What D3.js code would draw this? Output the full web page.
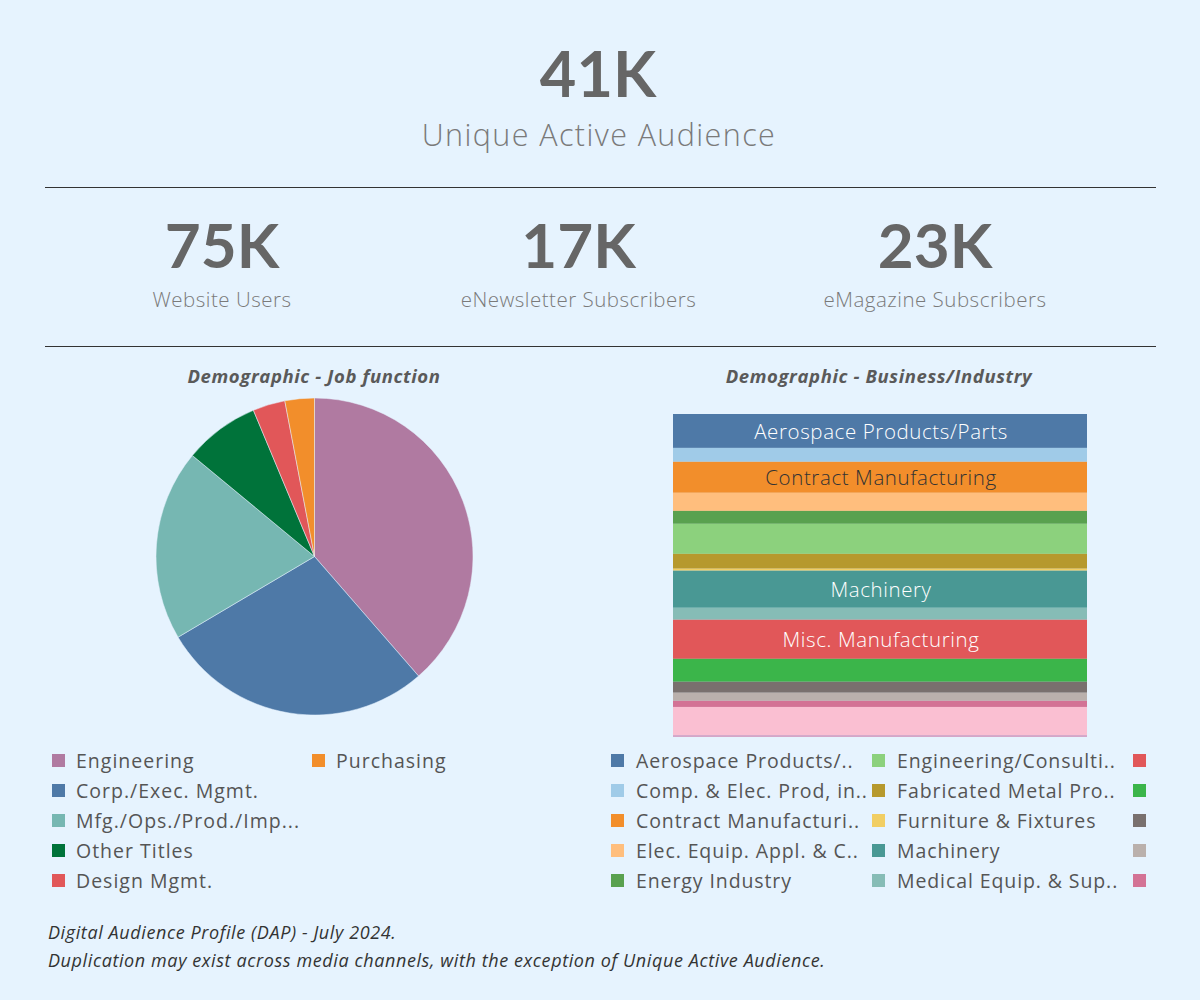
<!DOCTYPE html>
<html>
<head>
<meta charset="utf-8">
<script src="https://cdn.jsdelivr.net/npm/d3@7"></script>
<style>
  html, body { margin: 0; padding: 0; background: #e6f3fe; }
  svg { display: block; }
</style>
</head>
<body>
<svg id="chart" width="1200" height="1000"></svg>
<script>
// ---------- DATA ----------
const kpiValues = ["75K", "17K", "23K"];
const kpiLabels = ["Website Users", "eNewsletter Subscribers", "eMagazine Subscribers"];
const headlineValue = "41K";
const headlineLabel = "Unique Active Audience";

const jobCategories = ["Engineering", "Corp./Exec. Mgmt.", "Mfg./Ops./Prod./Imp...", "Other Titles", "Design Mgmt.", "Purchasing"];
const jobValues = [38.6, 27.9, 19.5, 7.7, 3.3, 3.0];
const jobColors = ["#b07aa1", "#4e79a7", "#76b7b2", "#00733a", "#e15759", "#f28e2b"];

const industryCategories = [
  "Aerospace Products/Parts", "Comp. & Elec. Prod, incl. Semiconductors", "Contract Manufacturing",
  "Elec. Equip. Appl. & Components", "Energy Industry", "Engineering/Consulting",
  "Fabricated Metal Products", "Furniture & Fixtures", "Machinery", "Medical Equip. & Supplies",
  "Misc. Manufacturing", "Plastics & Rubber", "Primary Metals", "Printing", "Textiles",
  "Transportation Equipment", "Other"
];
const industryLegendLabels = [
  "Aerospace Products/..", "Comp. & Elec. Prod, in..", "Contract Manufacturi..",
  "Elec. Equip. Appl. & C..", "Energy Industry", "Engineering/Consulti..",
  "Fabricated Metal Pro..", "Furniture & Fixtures", "Machinery", "Medical Equip. & Sup..",
  "", "", "", "", ""
];
const industryValues = [10.5, 4.3, 9.6, 5.6, 4.0, 9.3, 4.6, 0.6, 11.5, 3.7, 12.1, 7.1, 3.4, 2.5, 1.9, 8.7, 0.6];
const industryColors = ["#4e79a7", "#a0cbe8", "#f28e2b", "#ffbe7d", "#59a14f", "#8cd17d",
  "#b6992d", "#f1ce63", "#499894", "#86bcb6", "#e15759", "#3bb54a", "#79706e", "#bab0ac",
  "#d37295", "#fabfd2", "#d4a6c8"];
const industryBarLabels = {
  "Aerospace Products/Parts": {text: "Aerospace Products/Parts", color: "#ffffff"},
  "Contract Manufacturing": {text: "Contract Manufacturing", color: "#333333"},
  "Machinery": {text: "Machinery", color: "#ffffff"},
  "Misc. Manufacturing": {text: "Misc. Manufacturing", color: "#ffffff"}
};

const footnotes = [
  "Digital Audience Profile (DAP) - July 2024.",
  "Duplication may exist across media channels, with the exception of Unique Active Audience."
];

// ---------- DRAW ----------
const svg = d3.select("#chart");
const NUMFONT = "Lato, 'Open Sans', sans-serif";
const FONT = "'Open Sans', 'Noto Sans', sans-serif";
const GREY = "#666666";

// Headline
svg.append("text").attr("x", 598).attr("y", 97).attr("text-anchor", "middle")
  .style("font-family", NUMFONT).style("font-weight", 700).style("font-size", "63px")
  .attr("fill", GREY).text(headlineValue);
svg.append("text").attr("x", 599).attr("y", 146).attr("text-anchor", "middle")
  .style("font-family", FONT).style("font-weight", 300).style("font-size", "30.5px")
  .style("letter-spacing", "1.4px")
  .attr("fill", "#7a7a7a").text(headlineLabel);

// separators
[187.5, 346.5].forEach(y => {
  svg.append("line").attr("x1", 45).attr("x2", 1156).attr("y1", y).attr("y2", y)
    .attr("stroke", "#333").attr("stroke-width", 1);
});

// KPI row
const kpiX = d3.scalePoint().domain(d3.range(kpiValues.length)).range([222, 935]);
kpiValues.forEach((v, i) => {
  svg.append("text").attr("x", kpiX(i)).attr("y", 268).attr("text-anchor", "middle")
    .style("font-family", NUMFONT).style("font-weight", 700).style("font-size", "62px")
    .attr("fill", GREY).text(v);
  svg.append("text").attr("x", kpiX(i)).attr("y", 306.5).attr("text-anchor", "middle")
    .style("font-family", FONT).style("font-weight", 300).style("font-size", "20.5px")
    .style("letter-spacing", "0.5px")
    .attr("fill", "#7a7a7a").text(kpiLabels[i]);
});

// Section titles
[["Demographic - Job function", 314], ["Demographic - Business/Industry", 879]].forEach(([t, x]) => {
  svg.append("text").attr("x", x).attr("y", 382.5).attr("text-anchor", "middle")
    .style("font-family", FONT).style("font-weight", 700).style("font-style", "italic")
    .style("font-size", "18.5px").style("letter-spacing", "0.6px")
    .attr("fill", "#5a5a5a").text(t);
});

// Pie
const pieColor = d3.scaleOrdinal().domain(jobCategories).range(jobColors);
const pie = d3.pie().sort(null).value(d => d.v);
const arc = d3.arc().innerRadius(0).outerRadius(158.5);
const pieData = jobCategories.map((c, i) => ({c, v: jobValues[i]}));
const pg = svg.append("g").attr("transform", "translate(314.5,556.5)");
pg.selectAll("path").data(pie(pieData)).join("path")
  .attr("d", arc).attr("fill", d => pieColor(d.data.c))
  .attr("stroke", "#e6f3fe").attr("stroke-width", 0.5);

// Pie legend
const legRow = d3.scaleLinear().domain([0, 1]).range([761, 791]);
pieData.forEach((d, i) => {
  const col = i < 5 ? 0 : 1;
  const row = i < 5 ? i : i - 5;
  const x0 = col === 0 ? 52 : 312;
  const y = legRow(row);
  svg.append("rect").attr("x", x0).attr("y", y - 7).attr("width", 13).attr("height", 13)
    .attr("fill", pieColor(d.c));
  svg.append("text").attr("x", x0 + 24).attr("y", y).attr("dy", "0.35em")
    .style("font-family", FONT).style("font-size", "19.5px").style("letter-spacing", "1px")
    .attr("fill", "#555").text(d.c);
});

// Stacked bar (100%)
const total = d3.sum(industryValues);
const yBar = d3.scaleLinear().domain([0, total]).range([414, 737]);
const xLeft = 673, xRight = 1087;
let cum = 0;
const stackData = industryCategories.map((c, i) => {
  const o = {c, v: industryValues[i], y0: cum, y1: cum + industryValues[i], color: industryColors[i]};
  cum += industryValues[i];
  return o;
});
const bg = svg.append("g");
bg.selectAll("rect").data(stackData).join("rect")
  .attr("x", xLeft).attr("width", xRight - xLeft)
  .attr("y", d => yBar(d.y0)).attr("height", d => yBar(d.y1) - yBar(d.y0))
  .attr("fill", d => d.color);
bg.selectAll("text").data(stackData.filter(d => industryBarLabels[d.c])).join("text")
  .attr("x", (xLeft + xRight) / 2 + 1).attr("y", d => (yBar(d.y0) + yBar(d.y1)) / 2 + 1)
  .attr("dy", "0.35em").attr("text-anchor", "middle")
  .style("font-family", FONT).style("font-weight", 300).style("font-size", "20.5px")
  .style("letter-spacing", "0.6px")
  .attr("fill", d => industryBarLabels[d.c].color).text(d => industryBarLabels[d.c].text);

// Industry legend (3 columns, 5 rows visible)
const colX = [611, 872, 1133];
for (let i = 0; i < 15; i++) {
  const col = Math.floor(i / 5), row = i % 5;
  const y = legRow(row);
  svg.append("rect").attr("x", colX[col]).attr("y", y - 7).attr("width", 13).attr("height", 13)
    .attr("fill", industryColors[i]);
  if (industryLegendLabels[i]) {
    svg.append("text").attr("x", colX[col] + 25).attr("y", y).attr("dy", "0.35em")
      .style("font-family", FONT).style("font-size", "19.5px").style("letter-spacing", "0.9px")
      .attr("fill", "#555").text(industryLegendLabels[i]);
  }
}

// Footnotes
footnotes.forEach((t, i) => {
  svg.append("text").attr("x", 48).attr("y", 939 + i * 28)
    .style("font-family", FONT).style("font-style", "italic").style("font-size", "18px")
    .style("letter-spacing", "0.6px")
    .attr("fill", "#333").text(t);
});
</script>
</body>
</html>
